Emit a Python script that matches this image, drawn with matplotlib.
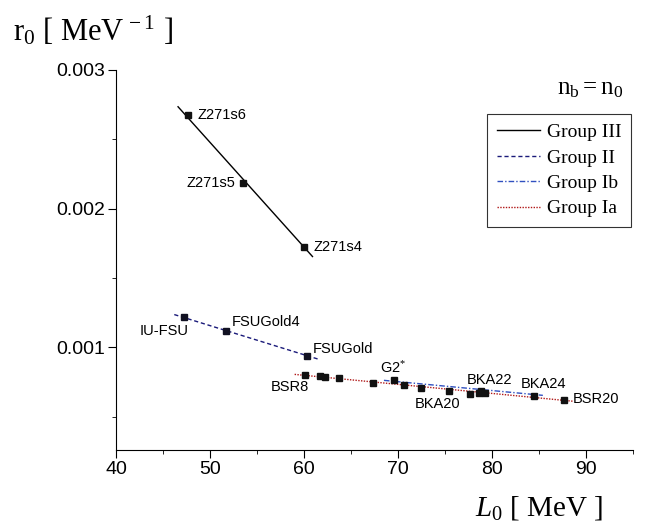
import numpy as np
import matplotlib.pyplot as plt

# Group III (Z271 family)
x_g3 = [47.7, 53.5, 60.0]
y_g3 = [0.002676, 0.002187, 0.001727]
names_g3 = ['Z271s6', 'Z271s5', 'Z271s4']

# Group II (FSU family)
x_g2 = [47.2, 51.75, 60.3]
y_g2 = [0.001216, 0.001122, 0.000942]
names_g2 = ['IU-FSU', 'FSUGold4', 'FSUGold']

# Group I (a + b)
x_g1 = [60.15, 61.65, 62.2, 63.75, 67.3, 69.55, 70.6, 72.45, 75.4, 77.6, 78.6, 78.8, 79.2, 84.5, 87.7]
y_g1 = [0.000801, 0.000794, 0.000786, 0.000777, 0.000741, 0.000763, 0.000727, 0.00071,
        0.000686, 0.000662, 0.000674, 0.000686, 0.000669, 0.00065, 0.000624]

# fit line end points
line_g3_x = [46.6, 60.9]
line_g3_y = [0.002734, 0.001655]
line_g2_x = [46.2, 61.6]
line_g2_y = [0.001237, 0.000914]
line_ib_x = [68.5, 85.4]
line_ib_y = [0.000763, 0.000655]
line_ia_x = [59.0, 88.7]
line_ia_y = [0.000806, 0.000612]

# labels: text, x, y, ha
labels = [
    ('Z271s6', 48.65, 0.002676, 'left'),
    ('Z271s5', 52.7, 0.002187, 'right'),
    ('Z271s4', 61.0, 0.001727, 'left'),
    ('IU-FSU', 45.1, 0.001115, 'center'),
    ('FSUGold4', 52.3, 0.00118, 'left'),
    ('FSUGold', 60.9, 0.000986, 'left'),
    ('BSR8', 58.5, 0.000712, 'center'),
    ('G2$^{*}$', 69.5, 0.000849, 'center'),
    ('BKA20', 74.2, 0.00059, 'center'),
    ('BKA22', 79.7, 0.000763, 'center'),
    ('BKA24', 85.45, 0.000734, 'center'),
    ('BSR20', 88.6, 0.000626, 'left'),
]

plt.rcParams['font.family'] = 'Liberation Sans'
plt.rcParams['mathtext.fontset'] = 'custom'
plt.rcParams['mathtext.rm'] = 'Liberation Serif'
plt.rcParams['mathtext.it'] = 'Liberation Serif:italic'

fig = plt.figure(figsize=(6.48, 5.29), dpi=100)
ax = fig.add_axes([0.179, 0.149, 0.798, 0.719])

ax.plot(line_g3_x, line_g3_y, color='black', lw=1.0, label='Group III')
ax.plot(line_g2_x, line_g2_y, color='#1a1a7a', lw=1.0, ls=(0, (3, 2)), label='Group II')
ax.plot(line_ib_x, line_ib_y, color='#3050c0', lw=1.0, ls=(0, (4, 1.5, 1, 1.5)), label='Group Ib')
ax.plot(line_ia_x, line_ia_y, color='#b01818', lw=1.0, ls=(0, (1, 1)), label='Group Ia')

ax.plot(x_g3, y_g3, 's', color='#111111', ms=4.5, zorder=5)
ax.plot(x_g2, y_g2, 's', color='#111122', ms=4.5, zorder=5)
ax.plot(x_g1, y_g1, 's', color='#111111', ms=4.5, zorder=5)

for txt, lx, ly, ha in labels:
    ax.text(lx, ly, txt, ha=ha, va='center', fontsize=10.5)

ax.set_xlim(40, 95)
ax.set_ylim(0.00026, 0.003)
ax.set_xticks([40, 50, 60, 70, 80, 90])
ax.set_xticks(np.arange(45, 96, 10), minor=True)
ax.set_yticks([0.001, 0.002, 0.003])
ax.set_yticklabels(['0.001', '0.002', '0.003'])
ax.set_yticks([0.0005, 0.0015, 0.0025], minor=True)
ax.tick_params(which='major', direction='out', length=6, labelsize=14, pad=2)
ax.tick_params(which='minor', direction='out', length=3)
ax.spines['top'].set_visible(False)
ax.spines['right'].set_visible(False)

leg = ax.legend(loc='upper left', bbox_to_anchor=(0.718, 0.884), borderaxespad=0,
                frameon=True, fancybox=False, edgecolor='black', handlelength=2.2,
                handletextpad=0.35, borderpad=0.5, labelspacing=0.4,
                prop={'family': 'Liberation Serif', 'size': 14})
leg.get_frame().set_linewidth(0.8)

fig.text(0.962, 0.834, r'$\mathrm{n_b = n_0}$', ha='right', va='center', fontsize=18)
fig.text(0.02, 0.943, r'r$_0$ [ MeV$^{\,-1}$ ]', ha='left', va='center', fontsize=22,
         family='Liberation Serif')
fig.text(0.931, 0.04, r'$L_0$ [ MeV ]', ha='right', va='center', fontsize=21,
         family='Liberation Serif')

fig.savefig('out.png', dpi=100)
